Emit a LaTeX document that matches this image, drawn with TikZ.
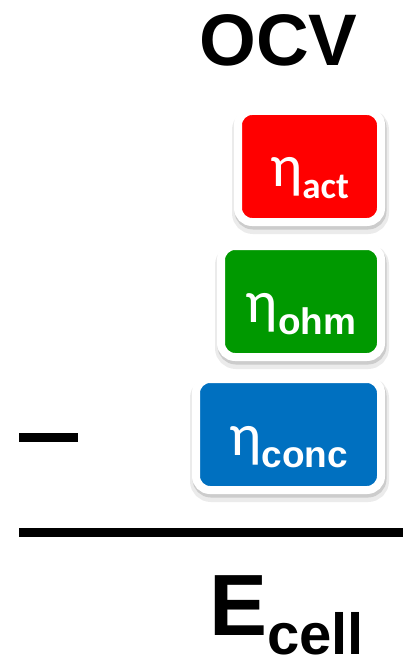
\documentclass[tikz,border=0pt]{standalone}
\usepackage{fontspec}
\usetikzlibrary{shadows}
\newfontfamily\arialfont{Liberation Sans}
\newfontfamily\calfont{Carlito}
\definecolor{actred}{RGB}{255,0,0}
\definecolor{ohmgreen}{RGB}{0,153,0}
\definecolor{concblue}{RGB}{0,112,192}

\begin{document}
\begin{tikzpicture}[x=1pt,y=-1pt]
\def\lw{8pt}
\def\boxht{103}
\tikzset{eta block/.style={
	rectangle,
	rounded corners=14pt,
	draw=white,
	line width=\lw,
	minimum height=\boxht*1pt+\lw,
	anchor=east,
	inner sep=0pt,
	outer sep=0pt,
	text=white,
	text height=41pt,
	text depth=0pt,
	general shadow={draw=black!8,fill=black!8,line width=14pt,shadow xshift=1pt,shadow yshift=-5pt},
	general shadow={draw=black!20,fill=black!20,line width=9pt,shadow xshift=1pt,shadow yshift=-3pt}
}}
\useasboundingbox (0,0) rectangle (403,660);
\node[anchor=base,inner sep=0pt,font=\arialfont\bfseries\fontsize{73}{73}\selectfont] (ocv) at (278.5,66) {OCV};
\foreach \nm/\col/\bw/\yy/\sub in {act/actred/135/166.5/{\calfont\bfseries act},ohm/ohmgreen/152/301.5/{\arialfont\bfseries ohm},conc/concblue/177/434.5/{\arialfont\bfseries conc}}
{
	\node[eta block,fill=\col,minimum width=\bw*1pt+\lw] (\nm) at (381,\yy) {{\calfont\fontsize{60}{60}\selectfont η}\raisebox{-12pt}{\fontsize{37}{37}\selectfont\sub}};
}
\draw[line width=9pt] (19,437.5) -- (78,437.5);
\draw[line width=8.5pt] (19,532.5) -- (403,532.5);
\node[anchor=base west,inner sep=0pt,font=\arialfont\bfseries\fontsize{87}{87}\selectfont] (ecell) at (209,635) {E\raisebox{-19pt}{\fontsize{58}{58}\selectfont cell}};
\end{tikzpicture}
\end{document}
